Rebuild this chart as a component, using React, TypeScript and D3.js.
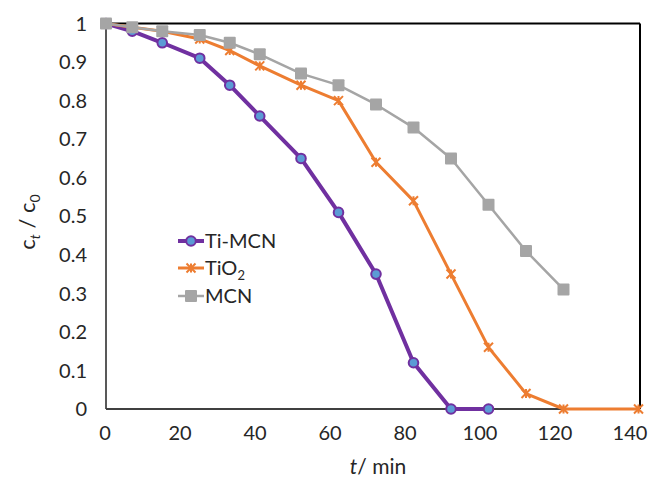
import React from "react";
import * as d3 from "d3";

const width = 653;
const height = 478;

// time (min)
const timeTiMCN = [0, 7, 15, 25, 33, 41, 52, 62, 72, 82, 92, 102];
const valTiMCN = [1, 0.98, 0.95, 0.91, 0.84, 0.76, 0.65, 0.51, 0.35, 0.12, 0, 0];

const timeTiO2 = [0, 7, 15, 25, 33, 41, 52, 62, 72, 82, 92, 102, 112, 122, 142];
const valTiO2 = [1, 0.99, 0.98, 0.96, 0.93, 0.89, 0.84, 0.8, 0.64, 0.54, 0.35, 0.16, 0.04, 0, 0];

const timeMCN = [0, 7, 15, 25, 33, 41, 52, 62, 72, 82, 92, 102, 112, 122];
const valMCN = [1, 0.99, 0.98, 0.97, 0.95, 0.92, 0.87, 0.84, 0.79, 0.73, 0.65, 0.53, 0.41, 0.31];

const xTicks = [0, 20, 40, 60, 80, 100, 120, 140];
const yTicks = [0, 0.1, 0.2, 0.3, 0.4, 0.5, 0.6, 0.7, 0.8, 0.9, 1];

const font = "Lato, 'Noto Sans', sans-serif";

const left = 106;
const right = 640;
const top = 23.5;
const bottom = 409;

const xScale = d3.scaleLinear().domain([0, 142.4]).range([left, right]);
const yScale = d3.scaleLinear().domain([0, 1]).range([bottom, top]);

const line = d3
  .line<[number, number]>()
  .x((d) => xScale(d[0]))
  .y((d) => yScale(d[1]));

const zip = (xs: number[], ys: number[]) => xs.map((x, i) => [x, ys[i]] as [number, number]);

const purple = "#7030A0";
const orange = "#ED7D31";
const gray = "#A5A5A5";
const blue = "#5B9BD5";

const Circle = ({ x, y }: { x: number; y: number }) => (
  <circle cx={x} cy={y} r={4.8} fill={blue} stroke={purple} strokeWidth={2} />
);

const Star = ({ x, y }: { x: number; y: number }) => {
  const s = 4.5;
  return (
    <path
      d={`M${x - s},${y - s}L${x + s},${y + s}M${x - s},${y + s}L${x + s},${y - s}M${x},${y - s}L${x},${y + s}`}
      stroke={orange}
      strokeWidth={2}
      fill="none"
    />
  );
};

const Square = ({ x, y }: { x: number; y: number }) => (
  <rect x={x - 6} y={y - 6} width={12} height={12} rx={1} fill={gray} />
);

const App = () => {
  const ptsTiMCN = zip(timeTiMCN, valTiMCN);
  const ptsTiO2 = zip(timeTiO2, valTiO2);
  const ptsMCN = zip(timeMCN, valMCN);

  return (
    <svg
      width={width}
      height={height}
      style={{ position: "absolute", left: 0, top: 0, background: "#fff" }}
      fontFamily={font}
    >
      {/* frame */}
      <line x1={left} x2={right} y1={top} y2={top} stroke="#000" strokeWidth={2} />
      <line x1={right} x2={right} y1={top} y2={bottom} stroke="#000" strokeWidth={2} />
      <line x1={left} x2={left} y1={top} y2={bottom} stroke="#595959" strokeWidth={2} />
      <line x1={left} x2={right} y1={bottom} y2={bottom} stroke="#404040" strokeWidth={2} />

      {/* y ticks */}
      {yTicks.map((t) => (
        <text
          key={t}
          x={87}
          y={yScale(t)}
          dy="0.36em"
          textAnchor="end"
          fontSize={20}
          fill="#262626"
        >
          {d3.format("~g")(t)}
        </text>
      ))}

      {/* x ticks */}
      {xTicks.map((t) => (
        <text
          key={t}
          x={105 + t * 3.75}
          y={440}
          textAnchor="middle"
          fontSize={20}
          fill="#262626"
        >
          {t}
        </text>
      ))}

      {/* axis titles */}
      <text x={378} y={474} textAnchor="middle" fontSize={21} fill="#262626">
        <tspan fontStyle="italic">t</tspan>
        <tspan>/ min</tspan>
      </text>
      <text
        transform="translate(35,222) rotate(-90)"
        textAnchor="middle"
        fontSize={22}
        fill="#262626"
      >
        <tspan>c</tspan>
        <tspan fontSize={14} fontStyle="italic" dy={5}>t</tspan>
        <tspan dy={-5}> / c</tspan>
        <tspan fontSize={14} dy={5}>0</tspan>
      </text>

      {/* series */}
      <path d={line(ptsTiMCN) ?? ""} fill="none" stroke={purple} strokeWidth={4} strokeLinejoin="round" />
      {ptsTiMCN.map((d, i) => (
        <Circle key={i} x={xScale(d[0])} y={yScale(d[1])} />
      ))}
      <path d={line(ptsTiO2) ?? ""} fill="none" stroke={orange} strokeWidth={3} strokeLinejoin="round" />
      {ptsTiO2.map((d, i) => (
        <Star key={i} x={xScale(d[0])} y={yScale(d[1])} />
      ))}
      <path d={line(ptsMCN) ?? ""} fill="none" stroke={gray} strokeWidth={2.5} strokeLinejoin="round" />
      {ptsMCN.map((d, i) => (
        <Square key={i} x={xScale(d[0])} y={yScale(d[1])} />
      ))}

      {/* legend */}
      <g fontSize={20} fill="#262626">
        <line x1={178} x2={204} y1={241} y2={241} stroke={purple} strokeWidth={4} />
        <Circle x={191} y={241} />
        <text x={205} y={241} dy="0.36em">Ti-MCN</text>

        <line x1={178} x2={204} y1={268} y2={268} stroke={orange} strokeWidth={3} />
        <Star x={191} y={268} />
        <text x={205} y={268} dy="0.36em">
          TiO<tspan fontSize={13} dy={5}>2</tspan>
        </text>

        <line x1={178} x2={204} y1={296} y2={296} stroke={gray} strokeWidth={2.5} />
        <Square x={191} y={296} />
        <text x={205} y={296} dy="0.36em">MCN</text>
      </g>
    </svg>
  );
};

export default App;
